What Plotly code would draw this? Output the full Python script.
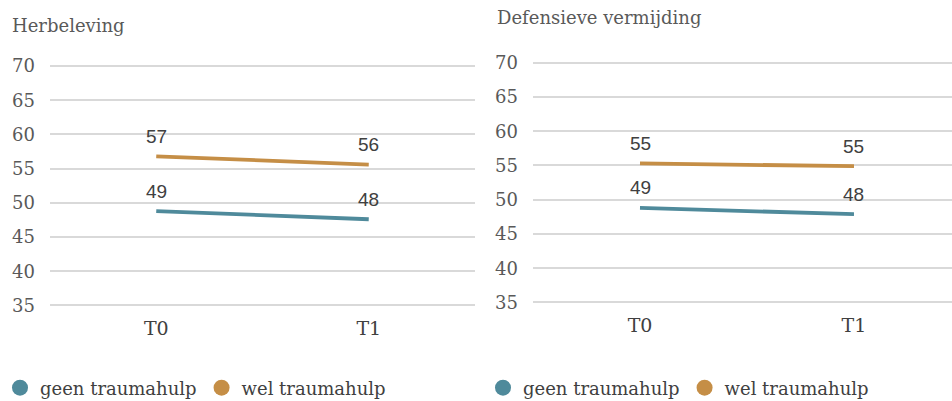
import plotly.graph_objects as go

categories = ["T0", "T1"]
tick_labels = ["T0", "T1"]
series_names = ["geen traumahulp", "wel traumahulp"]

herbeleving_geen = [48.8, 47.6]
herbeleving_wel = [56.8, 55.6]
defensief_geen = [48.8, 47.9]
defensief_wel = [55.3, 54.9]

y_ticks = [35, 40, 45, 50, 55, 60, 65, 70]
titles = ["Herbeleving", "Defensieve vermijding"]

colors = {"geen traumahulp": "#4f8a9b", "wel traumahulp": "#c58e46"}

SERIF = "DejaVu Serif"
SANS = "Liberation Sans"

fig = go.Figure()

panels = [
    ("x", "y", {"geen traumahulp": herbeleving_geen, "wel traumahulp": herbeleving_wel}, "legend"),
    ("x2", "y2", {"geen traumahulp": defensief_geen, "wel traumahulp": defensief_wel}, "legend2"),
]

annotations = []
for xa, ya, data, leg in panels:
    for name in series_names:
        vals = data[name]
        fig.add_trace(go.Scatter(
            x=categories, y=vals, mode="lines", name=name,
            line=dict(color=colors[name], width=3.8),
            xaxis=xa, yaxis=ya, showlegend=False, hoverinfo="skip",
        ))
        for c, v in zip(categories, vals):
            annotations.append(dict(
                x=c, y=v, xref=xa, yref=ya, text=str(round(v)),
                showarrow=False, yshift=20, yanchor="middle",
                font=dict(family=SANS, size=19, color="#404040"),
            ))
        # legend-only marker trace
        fig.add_trace(go.Scatter(
            x=[None], y=[None], mode="markers", name=name,
            marker=dict(color=colors[name], size=17, symbol="circle"),
            xaxis=xa, yaxis=ya, legend=leg, showlegend=True,
        ))

annotations.append(dict(
    x=10 / 952, y=(401 - 25) / 401, xref="paper", yref="paper",
    text=titles[0], showarrow=False, xanchor="left", yanchor="middle",
    font=dict(family=SERIF, size=18, color="#595959"),
))
annotations.append(dict(
    x=495 / 952, y=(401 - 18) / 401, xref="paper", yref="paper",
    text=titles[1], showarrow=False, xanchor="left", yanchor="middle",
    font=dict(family=SERIF, size=18, color="#595959"),
))

axis_font = dict(family=SERIF, size=18, color="#595959")
yaxis_common = dict(
    range=[34.5, 70.5], tickvals=y_ticks, ticktext=[str(t) for t in y_ticks],
    showgrid=True, gridcolor="#d9d9d9", gridwidth=1.5, zeroline=False,
    showline=False, ticks="", tickfont=axis_font, ticklabelstandoff=14,
    fixedrange=True, automargin=False,
)
xaxis_common = dict(
    showgrid=False, zeroline=False, showline=False, ticks="",
    tickfont=dict(family=SERIF, size=19, color="#404040"),
    tickvals=categories, ticktext=tick_labels, ticklabelstandoff=6,
    automargin=False, fixedrange=True,
)

legend_common = dict(
    orientation="h", yanchor="middle", xanchor="left",
    font=dict(family=SERIF, size=18, color="#404040"),
    bgcolor="rgba(0,0,0,0)", itemsizing="trace",
    tracegroupgap=0, itemclick=False,
)

fig.update_layout(
    width=952, height=401,
    margin=dict(l=0, r=0, t=0, b=0, autoexpand=False),
    paper_bgcolor="white", plot_bgcolor="white",
    showlegend=True,
    xaxis=dict(domain=[50 / 952, 475 / 952], range=[-0.5, 1.5], anchor="y", **xaxis_common),
    yaxis=dict(domain=[0.2297, 0.8439], anchor="x", **yaxis_common),
    xaxis2=dict(domain=[533 / 952, 1.0], range=[-0.5, 1.458], anchor="y2", **xaxis_common),
    yaxis2=dict(domain=[0.2371, 0.8521], anchor="x2", **yaxis_common),
    legend=dict(x=0.0, y=(401 - 388) / 401, **legend_common),
    legend2=dict(x=483 / 952, y=(401 - 388) / 401, **legend_common),
    annotations=annotations,
)

fig.write_html(
    "out.html",
    config={"displayModeBar": False},
    post_script="document.body.style.margin='0';document.body.style.padding='0';document.body.style.overflow='hidden';",
)
